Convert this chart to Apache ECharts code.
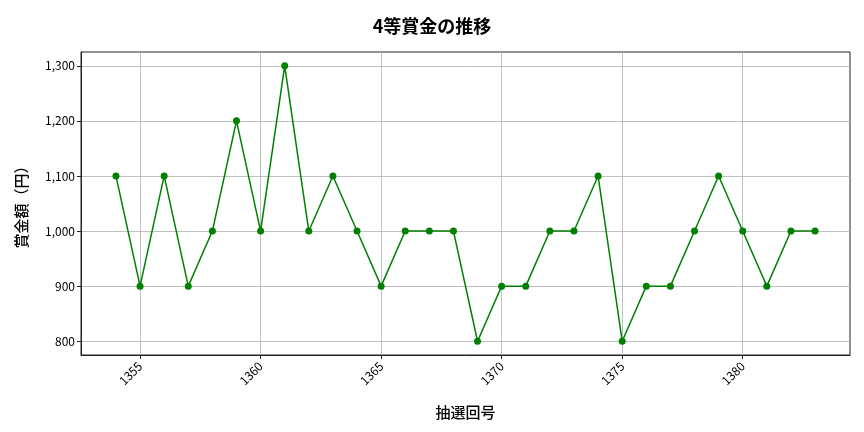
<!DOCTYPE html>
<html lang="ja">
<head>
<meta charset="UTF-8">
<title>4等賞金の推移</title>
<script src="https://cdn.jsdelivr.net/npm/echarts@6/dist/echarts.min.js"></script>
<style>
  html, body { margin: 0; padding: 0; background: #fff; }
  #main { width: 864px; height: 432px; }
</style>
</head>
<body>
<div id="main"></div>
<script>
// 抽選回号と4等賞金
var rounds = [1354, 1355, 1356, 1357, 1358, 1359, 1360, 1361, 1362, 1363,
              1364, 1365, 1366, 1367, 1368, 1369, 1370, 1371, 1372, 1373,
              1374, 1375, 1376, 1377, 1378, 1379, 1380, 1381, 1382, 1383];
var prizes = [1100, 900, 1100, 900, 1000, 1200, 1000, 1300, 1000, 1100,
              1000, 900, 1000, 1000, 1000, 800, 900, 900, 1000, 1000,
              1100, 800, 900, 900, 1000, 1100, 1000, 900, 1000, 1000];
var xTicks = [1355, 1360, 1365, 1370, 1375, 1380];
var yTicks = [800, 900, 1000, 1100, 1200, 1300];

var font = '"Noto Sans CJK JP", "DejaVu Sans", sans-serif';
var chart = echarts.init(document.getElementById('main'));

chart.setOption({
    animation: false,
    backgroundColor: '#fff',
    title: {
        text: '4等賞金の推移',
        left: 'center',
        top: 12,
        textStyle: { fontFamily: font, fontSize: 18, fontWeight: 'bold', color: '#000' }
    },
    grid: {
        left: 81, right: 14, top: 52, bottom: 77,
        show: true, borderColor: '#222', borderWidth: 1
    },
    xAxis: {
        type: 'value',
        min: 1352.55,
        max: 1384.45,
        name: '抽選回号',
        nameLocation: 'middle',
        nameGap: 50,
        nameTextStyle: { fontFamily: font, fontSize: 15, fontWeight: 500, color: '#000' },
        axisLine: { show: true, lineStyle: { color: '#222' } },
        axisTick: { show: true, length: 4, customValues: xTicks, lineStyle: { color: '#222' } },
        axisLabel: {
            customValues: xTicks, rotate: 45, margin: 9,
            fontFamily: font, fontSize: 12, color: '#000',
            formatter: function (v) { return String(v); }
        },
        splitLine: { show: true, lineStyle: { color: '#b0b0b0', width: 0.8 } }
    },
    yAxis: {
        type: 'value',
        min: 775,
        max: 1325,
        name: '賞金額（円）',
        nameLocation: 'middle',
        nameGap: 52,
        nameTextStyle: { fontFamily: font, fontSize: 15, fontWeight: 500, color: '#000' },
        axisLine: { show: true, lineStyle: { color: '#222' } },
        axisTick: { show: true, length: 4, customValues: yTicks, lineStyle: { color: '#222' } },
        axisLabel: {
            customValues: yTicks, margin: 6,
            fontFamily: font, fontSize: 12, color: '#000',
            formatter: function (v) { return v.toLocaleString('en-US'); }
        },
        splitLine: { show: true, lineStyle: { color: '#b0b0b0', width: 0.8 } }
    },
    series: [{
        type: 'line',
        data: rounds.map(function (r, i) { return [r, prizes[i]]; }),
        symbol: 'circle',
        symbolSize: 7,
        lineStyle: { color: '#008000', width: 1.5 },
        itemStyle: { color: '#008000' }
    }]
});
</script>
</body>
</html>
